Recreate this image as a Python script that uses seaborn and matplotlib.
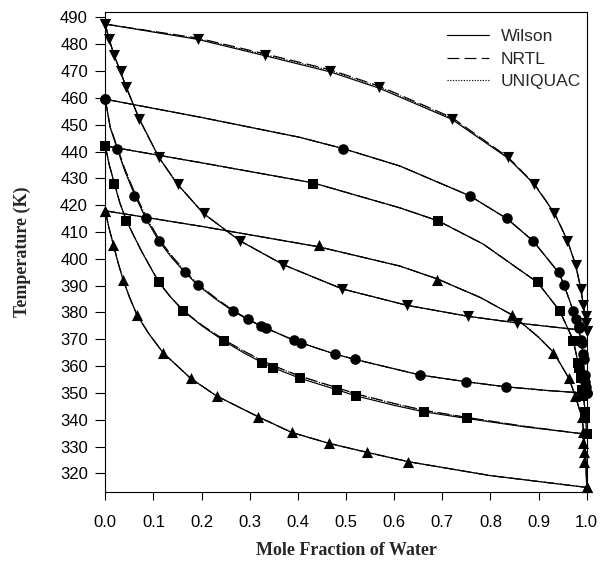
import matplotlib
matplotlib.use("Agg")
import matplotlib.pyplot as plt
import seaborn as sns
from matplotlib.lines import Line2D

# ---------------- experimental data (T-x-y), four pressures ----------------
# System A (inverted triangles)
A_T = [487.5, 481.9, 476.0, 470.0, 463.9, 452.0, 437.8, 427.8, 417.0, 406.8, 397.7, 388.8, 382.7, 378.6, 376.1, 373.2]
A_x = [0.000, 0.008, 0.018, 0.032, 0.042, 0.071, 0.111, 0.150, 0.204, 0.279, 0.370, 0.492, 0.626, 0.753, 0.855, 1.000]
A_y = [0.000, 0.192, 0.332, 0.467, 0.569, 0.720, 0.836, 0.891, 0.933, 0.960, 0.977, 0.988, 0.993, 0.998, 0.999, 1.000]
# System B (circles)
B_T = [459.5, 440.9, 423.5, 415.1, 406.7, 395.0, 390.2, 380.4, 377.4, 374.9, 374.1, 369.7, 368.7, 364.5, 362.5, 356.7, 354.2, 352.3, 349.9]
B_x = [0.000, 0.025, 0.060, 0.084, 0.111, 0.165, 0.192, 0.266, 0.296, 0.323, 0.334, 0.391, 0.406, 0.477, 0.519, 0.654, 0.749, 0.832, 1.000]
B_y = [0.000, 0.494, 0.757, 0.835, 0.889, 0.943, 0.953, 0.972, 0.978, 0.983, 0.985, 0.988, 0.990, 0.992, 0.994, 0.996, 0.997, 0.998, 1.000]
# System C (squares)
C_T = [442.1, 428.0, 414.2, 391.3, 380.6, 369.3, 361.3, 359.4, 355.5, 351.2, 348.9, 343.0, 340.5, 334.6]
C_x = [0.000, 0.019, 0.044, 0.111, 0.162, 0.247, 0.326, 0.349, 0.404, 0.481, 0.521, 0.661, 0.751, 1.000]
C_y = [0.000, 0.432, 0.691, 0.898, 0.944, 0.972, 0.982, 0.984, 0.988, 0.991, 0.993, 0.996, 0.997, 1.000]
# System D (triangles)
D_T = [417.9, 405.1, 392.2, 379.0, 365.0, 355.5, 348.9, 341.1, 335.3, 331.2, 327.9, 324.4, 314.8]
D_x = [0.000, 0.017, 0.037, 0.066, 0.120, 0.177, 0.231, 0.318, 0.387, 0.465, 0.543, 0.629, 1.000]
D_y = [0.000, 0.443, 0.690, 0.845, 0.931, 0.963, 0.976, 0.990, 0.993, 0.993, 0.994, 0.994, 1.000]

# ---------------- model curves (Wilson / NRTL / UNIQUAC) ----------------
A_bub_x = [0.0, 0.004, 0.008, 0.018, 0.032, 0.042, 0.071, 0.111, 0.150, 0.204, 0.279, 0.370, 0.492, 0.626, 0.753, 0.855, 0.930, 1.0]
A_bub_T_wilson = [487.5, 484.5, 481.9, 476.0, 469.6, 464.6, 452.0, 437.9, 427.8, 416.9, 406.8, 397.8, 388.8, 382.7, 378.6, 376.1, 374.6, 373.2]
A_bub_T_nrtl = A_bub_T_wilson
A_bub_T_uniquac = A_bub_T_wilson
A_dew_y = [0.0, 0.192, 0.332, 0.467, 0.569, 0.720, 0.836, 0.891, 0.933, 0.960, 0.977, 0.988, 0.993, 0.997, 1.0]
A_dew_T_wilson = [487.5, 481.8, 475.7, 469.7, 463.6, 452.0, 437.6, 427.8, 417.0, 406.8, 397.7, 388.8, 382.7, 378.0, 373.2]
A_dew_T_nrtl = [487.5, 482.3, 476.4, 470.5, 464.4, 452.7, 438.0, 428.0, 417.1, 406.8, 397.7, 388.8, 382.7, 378.0, 373.2]
A_dew_T_uniquac = [487.5, 482.1, 476.1, 470.2, 464.1, 452.4, 437.8, 427.9, 417.0, 406.8, 397.7, 388.8, 382.7, 378.0, 373.2]

B_bub_x = [0.0, 0.010, 0.025, 0.040, 0.060, 0.084, 0.111, 0.140, 0.165, 0.192, 0.230, 0.266, 0.296, 0.323, 0.334, 0.391, 0.406, 0.477, 0.519, 0.654, 0.749, 0.832, 0.920, 1.0]
B_bub_T_wilson = [459.5, 449.0, 440.9, 433.0, 424.2, 415.1, 406.7, 400.0, 395.0, 390.2, 384.9, 380.4, 377.4, 374.9, 374.1, 369.7, 368.7, 364.5, 362.5, 356.7, 354.2, 352.3, 350.9, 349.9]
B_bub_T_nrtl = [459.5, 449.4, 441.5, 433.8, 425.1, 416.0, 407.5, 400.7, 395.6, 390.7, 385.3, 380.7, 377.6, 375.0, 374.2, 369.7, 368.7, 364.5, 362.5, 356.7, 354.2, 352.3, 350.9, 349.9]
B_bub_T_uniquac = [459.5, 449.3, 441.4, 433.6, 424.9, 415.8, 407.3, 400.5, 395.4, 390.6, 385.2, 380.6, 377.5, 375.0, 374.2, 369.7, 368.7, 364.5, 362.5, 356.7, 354.2, 352.3, 350.9, 349.9]
B_dew_y = [0.0, 0.200, 0.404, 0.494, 0.612, 0.757, 0.835, 0.889, 0.943, 0.953, 0.972, 0.978, 0.983, 0.988, 0.992, 0.996, 0.998, 1.0]
B_dew_T_wilson = [459.5, 452.7, 445.3, 441.1, 434.6, 423.5, 414.9, 406.6, 394.6, 390.2, 380.6, 377.6, 374.6, 369.5, 364.5, 356.7, 353.0, 349.9]
B_dew_T_nrtl = B_dew_T_wilson
B_dew_T_uniquac = B_dew_T_wilson

C_bub_x = [0.0, 0.008, 0.019, 0.030, 0.044, 0.060, 0.076, 0.111, 0.135, 0.162, 0.200, 0.247, 0.290, 0.326, 0.349, 0.404, 0.481, 0.521, 0.600, 0.661, 0.751, 0.870, 1.0]
C_bub_T_wilson = [442.1, 435.2, 428.0, 421.0, 414.2, 408.3, 402.6, 391.3, 385.9, 380.6, 375.1, 369.3, 364.7, 361.3, 359.4, 355.5, 351.2, 348.9, 345.4, 343.0, 340.5, 337.4, 334.6]
C_bub_T_nrtl = [442.1, 435.2, 428.0, 421.0, 414.2, 408.3, 402.6, 391.3, 385.9, 380.7, 375.4, 369.8, 365.4, 362.1, 360.2, 356.3, 352.0, 349.7, 346.1, 343.6, 340.9, 337.6, 334.6]
C_bub_T_uniquac = [442.1, 435.2, 428.0, 421.0, 414.2, 408.3, 402.6, 391.3, 385.9, 380.7, 375.3, 369.7, 365.3, 362.0, 360.1, 356.2, 351.9, 349.6, 346.0, 343.5, 340.8, 337.6, 334.6]
C_dew_y = [0.0, 0.200, 0.432, 0.612, 0.691, 0.785, 0.898, 0.944, 0.972, 0.982, 0.988, 0.993, 0.997, 1.0]
C_dew_T_wilson = [442.1, 435.8, 428.3, 419.0, 414.2, 405.5, 391.2, 380.6, 369.7, 361.3, 355.5, 349.0, 343.0, 334.6]
C_dew_T_nrtl = C_dew_T_wilson
C_dew_T_uniquac = C_dew_T_wilson

D_bub_x = [0.0, 0.007, 0.017, 0.026, 0.037, 0.050, 0.066, 0.090, 0.120, 0.177, 0.231, 0.318, 0.387, 0.465, 0.543, 0.629, 0.800, 1.0]
D_bub_T_wilson = [417.9, 412.0, 405.1, 398.9, 392.2, 385.8, 379.0, 372.2, 365.0, 355.5, 348.9, 341.1, 335.3, 331.2, 327.9, 324.4, 319.2, 314.8]
D_bub_T_nrtl = D_bub_T_wilson
D_bub_T_uniquac = D_bub_T_wilson
D_dew_y = [0.0, 0.200, 0.443, 0.612, 0.690, 0.780, 0.845, 0.900, 0.931, 0.963, 0.976, 0.990, 0.995, 0.998, 1.0]
D_dew_T_wilson = [417.9, 412.1, 404.5, 397.3, 392.5, 385.5, 379.1, 370.8, 365.2, 355.5, 349.0, 341.0, 333.5, 326.0, 314.8]
D_dew_T_nrtl = D_dew_T_wilson
D_dew_T_uniquac = D_dew_T_wilson

models = ["Wilson", "NRTL", "UNIQUAC"]
x_ticks = [0.0, 0.1, 0.2, 0.3, 0.4, 0.5, 0.6, 0.7, 0.8, 0.9, 1.0]
y_ticks = [320, 330, 340, 350, 360, 370, 380, 390, 400, 410, 420, 430, 440, 450, 460, 470, 480, 490]

# ---------------- figure ----------------
sns.set_style("ticks")
plt.rcParams["font.family"] = ["Liberation Sans", "DejaVu Sans"]

fig = plt.figure(figsize=(6.0, 5.67), dpi=100)
W, H = 600.0, 567.0
L, R, T, B = 105.3, 586.7, 12.3, 491.7
ax = fig.add_axes([L / W, 1 - B / H, (R - L) / W, (B - T) / H])

styles = {"Wilson": "-", "NRTL": (0, (10, 4.5)), "UNIQUAC": (0, (1, 1.3))}

systems = [
    ("v", 64, A_T, A_x, A_y, A_bub_x, [A_bub_T_wilson, A_bub_T_nrtl, A_bub_T_uniquac],
     A_dew_y, [A_dew_T_wilson, A_dew_T_nrtl, A_dew_T_uniquac]),
    ("o", 58, B_T, B_x, B_y, B_bub_x, [B_bub_T_wilson, B_bub_T_nrtl, B_bub_T_uniquac],
     B_dew_y, [B_dew_T_wilson, B_dew_T_nrtl, B_dew_T_uniquac]),
    ("s", 44, C_T, C_x, C_y, C_bub_x, [C_bub_T_wilson, C_bub_T_nrtl, C_bub_T_uniquac],
     C_dew_y, [C_dew_T_wilson, C_dew_T_nrtl, C_dew_T_uniquac]),
    ("^", 64, D_T, D_x, D_y, D_bub_x, [D_bub_T_wilson, D_bub_T_nrtl, D_bub_T_uniquac],
     D_dew_y, [D_dew_T_wilson, D_dew_T_nrtl, D_dew_T_uniquac]),
]

for marker, size, Ts, xs, ys, bx, bTs, dy, dTs in systems:
    for m, bT, dT in zip(models, bTs, dTs):
        sns.lineplot(x=bx, y=bT, sort=False, estimator=None, color="k",
                     linewidth=0.85, linestyle=styles[m], ax=ax, clip_on=False)
        sns.lineplot(x=dy, y=dT, sort=False, estimator=None, color="k",
                     linewidth=0.85, linestyle=styles[m], ax=ax, clip_on=False)
    sns.scatterplot(x=xs, y=Ts, marker=marker, s=size, color="k", edgecolor="k",
                    linewidth=0, ax=ax, clip_on=False, zorder=4)
    sns.scatterplot(x=ys, y=Ts, marker=marker, s=size, color="k", edgecolor="k",
                    linewidth=0, ax=ax, clip_on=False, zorder=4)

ax.set_xlim(0.0, 1.0)
ax.set_ylim(313.2, 491.9)
ax.set_xticks(x_ticks)
ax.set_xticklabels([f"{v:.1f}" for v in x_ticks])
ax.set_yticks(y_ticks)
ax.set_yticklabels([str(v) for v in y_ticks])
ax.tick_params(axis="x", direction="out", length=6, width=0.8, pad=10.5, labelsize=12, colors="k")
ax.tick_params(axis="y", direction="out", length=7, width=0.8, pad=5.5, labelsize=12, colors="k")
for s in ax.spines.values():
    s.set_visible(True)
    s.set_linewidth(0.8)
    s.set_color("k")

ax.set_xlabel("Mole Fraction of Water", family=["Liberation Serif", "DejaVu Serif"],
              fontweight="bold", fontsize=13, labelpad=9)
ax.set_ylabel("Temperature (K)", family=["Liberation Serif", "DejaVu Serif"],
              fontweight="bold", fontsize=13, labelpad=21)

handles = [Line2D([], [], color="k", linewidth=0.85, linestyle=styles[m]) for m in models]
ax.legend(handles, models, loc="upper right", bbox_to_anchor=(0.999, 0.976),
          frameon=False, fontsize=12.5, handlelength=2.4, handletextpad=0.7,
          labelspacing=0.42, borderaxespad=0.0, borderpad=0.3)

fig.savefig("out.png", dpi=100)
